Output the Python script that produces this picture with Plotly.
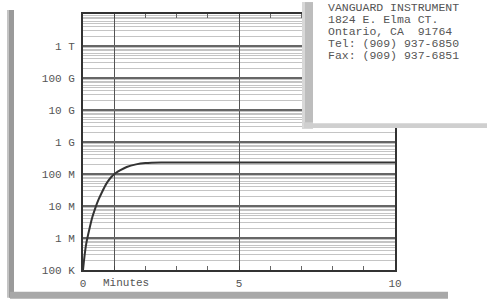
import plotly.graph_objects as go

# ---- data ----
minutes = [0, 0.05, 0.1, 0.2, 0.3, 0.4, 0.5, 0.6, 0.75, 0.9, 1.05, 1.2, 1.4, 1.7, 2.0, 2.5, 3, 4, 5, 6, 7, 8, 9, 10]
resistance = [1.0e5, 2.8e5, 6.3e5, 1.8e6, 4.5e6, 8.9e6, 1.6e7, 2.6e7, 5.0e7, 7.9e7, 1.07e8, 1.32e8,
              1.66e8, 2.0e8, 2.2e8, 2.3e8, 2.3e8, 2.3e8, 2.3e8, 2.3e8, 2.3e8, 2.3e8, 2.3e8, 2.3e8]
y_tickvals = [1e5, 1e6, 1e7, 1e8, 1e9, 1e10, 1e11, 1e12]
y_ticktext = ["100 K", "1 M", "10 M", "100 M", "1 G", "10 G", "100 G", "1 T"]
x_tickvals = [0, 1, 5, 10]
x_ticktext = ["0", "", "5", "10"]
box_lines = ["VANGUARD INSTRUMENT", "1824 E. Elma CT.", "Ontario, CA  91764",
             "Tel: (909) 937-6850", "Fax: (909) 937-6851"]

W, H = 487, 302
L, R, T, B = 83, 395, 12, 270
MONO = "Liberation Mono, DejaVu Sans Mono, monospace"


def px(x):
    return (x - L) / (R - L)


def py(y):
    return (B - y) / (B - T)


fig = go.Figure()
fig.add_trace(go.Scatter(x=minutes, y=resistance, mode="lines",
                         line=dict(color="#333333", width=2, shape="spline", smoothing=0.6),
                         hoverinfo="skip", showlegend=False))

shapes = []
# paper shadows
shapes.append(dict(type="rect", xref="paper", yref="paper", x0=px(7), x1=px(11), y0=py(298), y1=py(8),
                   fillcolor="#c4c4c4", line=dict(width=0), layer="below"))
shapes.append(dict(type="rect", xref="paper", yref="paper", x0=px(9), x1=px(14), y0=py(298), y1=py(8),
                   fillcolor="#9a9a9a", line=dict(width=0), layer="below"))
shapes.append(dict(type="rect", xref="paper", yref="paper", x0=px(10), x1=px(448), y0=py(299), y1=py(292),
                   fillcolor="#a8a8a8", line=dict(width=0), layer="below"))
# info card shadow + card
shapes.append(dict(type="rect", xref="paper", yref="paper", x0=px(302), x1=px(313), y0=py(128), y1=py(0),
                   fillcolor="#d8d8d8", line=dict(width=0), layer="above"))
shapes.append(dict(type="rect", xref="paper", yref="paper", x0=px(305), x1=px(313), y0=py(126), y1=py(0),
                   fillcolor="#bdbdbd", line=dict(width=0), layer="above"))
shapes.append(dict(type="rect", xref="paper", yref="paper", x0=px(304), x1=px(490), y0=py(127), y1=py(121),
                   fillcolor="#cfcfcf", line=dict(width=0), layer="above"))
shapes.append(dict(type="rect", xref="paper", yref="paper", x0=px(313), x1=px(490), y0=py(122), y1=py(-5),
                   fillcolor="white", line=dict(width=0), layer="above"))
fig.update_layout(shapes=shapes)

ann = []
for i, s in enumerate(box_lines):
    ann.append(dict(xref="paper", yref="paper", x=px(326), y=py(5 + 12.2 * i), xanchor="left", yanchor="middle",
                    text=s, showarrow=False, font=dict(family=MONO, size=11.5, color="#555555")))
ann.append(dict(xref="paper", yref="paper", x=px(101), y=py(283), xanchor="left", yanchor="middle",
                text="Minutes", showarrow=False, font=dict(family=MONO, size=11, color="#555555")))
fig.update_layout(annotations=ann)

fig.update_layout(
    width=W, height=H,
    margin=dict(l=L, r=W - R, t=T, b=H - B, pad=0),
    paper_bgcolor="white", plot_bgcolor="white",
    xaxis=dict(range=[0, 10], tickvals=x_tickvals, ticktext=x_ticktext,
               showgrid=True, gridcolor="#555555", gridwidth=1.2, zeroline=False,
               showline=True, linecolor="#333333", linewidth=2, mirror="ticks",
               ticks="inside", ticklen=4, tickcolor="#444444", ticklabelstandoff=2,
               minor=dict(dtick=1, ticks="inside", ticklen=4, tickcolor="#666666", showgrid=False),
               tickfont=dict(family=MONO, size=11, color="#555555")),
    yaxis=dict(type="log", range=[5, 13], tickvals=y_tickvals, ticktext=y_ticktext,
               showgrid=True, gridcolor="#666666", gridwidth=2, zeroline=False,
               showline=True, linecolor="#333333", linewidth=2, mirror=True,
               ticks="", ticklabelstandoff=4,
               minor=dict(showgrid=True, gridcolor="#c4c4c4", gridwidth=1, dtick="D1"),
               tickfont=dict(family=MONO, size=11, color="#555555")),
)

fig.write_html("out.html", config={"displayModeBar": False},
               post_script="document.body.style.margin='0px';")
